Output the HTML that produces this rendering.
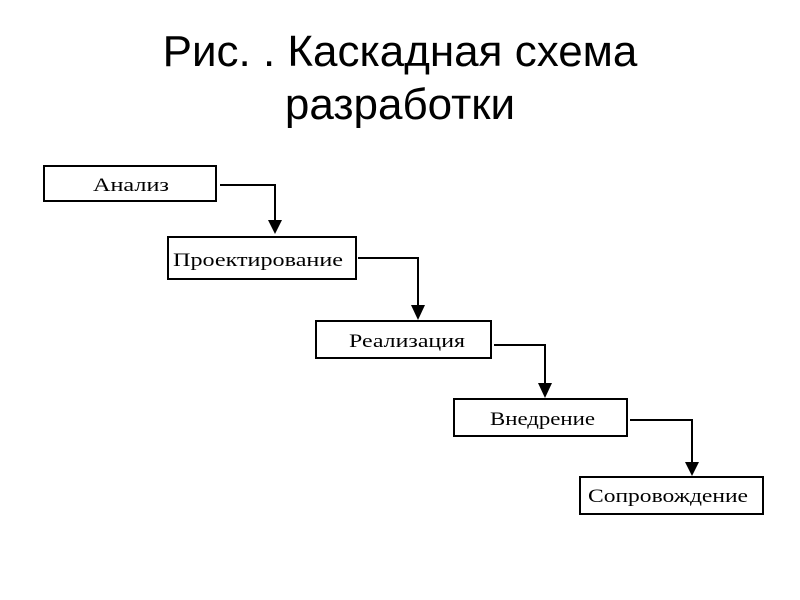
<!DOCTYPE html>
<html><head><meta charset="utf-8"><style>
body{margin:0;width:800px;height:600px;background:#fff;overflow:hidden;font-family:"Liberation Sans",sans-serif}
.t{position:absolute;left:0;width:800px;text-align:center;font-size:44px;color:#000;line-height:52px}
</style></head><body>
<div class="t" style="top:26px">Рис. . Каскадная схема</div>
<div class="t" style="top:79px">разработки</div>
<svg width="800" height="600" style="position:absolute;left:0;top:0" font-family="Liberation Serif, serif" font-size="19">
<g fill="#fff" stroke="#000" stroke-width="2">
<rect x="44" y="166" width="172" height="35"/>
<rect x="168" y="237" width="188" height="42"/>
<rect x="316" y="321" width="175" height="37"/>
<rect x="454" y="399" width="173" height="37"/>
<rect x="580" y="477" width="183" height="37"/>
</g>
<g fill="none" stroke="#000" stroke-width="2">
<polyline points="220,185 275,185 275,224"/>
<polyline points="358,258 418,258 418,308"/>
<polyline points="494,345 545,345 545,386"/>
<polyline points="630,420 692,420 692,464"/>
</g>
<g fill="#000">
<polygon points="268,220 282,220 275,234"/>
<polygon points="411,305 425,305 418,320"/>
<polygon points="538,383 552,383 545,398"/>
<polygon points="685,462 699,462 692,476"/>
</g>
<g lengthAdjust="spacingAndGlyphs">
<text x="93" y="191" textLength="76" lengthAdjust="spacingAndGlyphs">Анализ</text>
<text x="173" y="266" textLength="170" lengthAdjust="spacingAndGlyphs">Проектирование</text>
<text x="349" y="347" textLength="116" lengthAdjust="spacingAndGlyphs">Реализация</text>
<text x="490" y="425" textLength="105" lengthAdjust="spacingAndGlyphs">Внедрение</text>
<text x="588" y="502" textLength="160" lengthAdjust="spacingAndGlyphs">Сопровождение</text>
</g>
</svg>
</body></html>
